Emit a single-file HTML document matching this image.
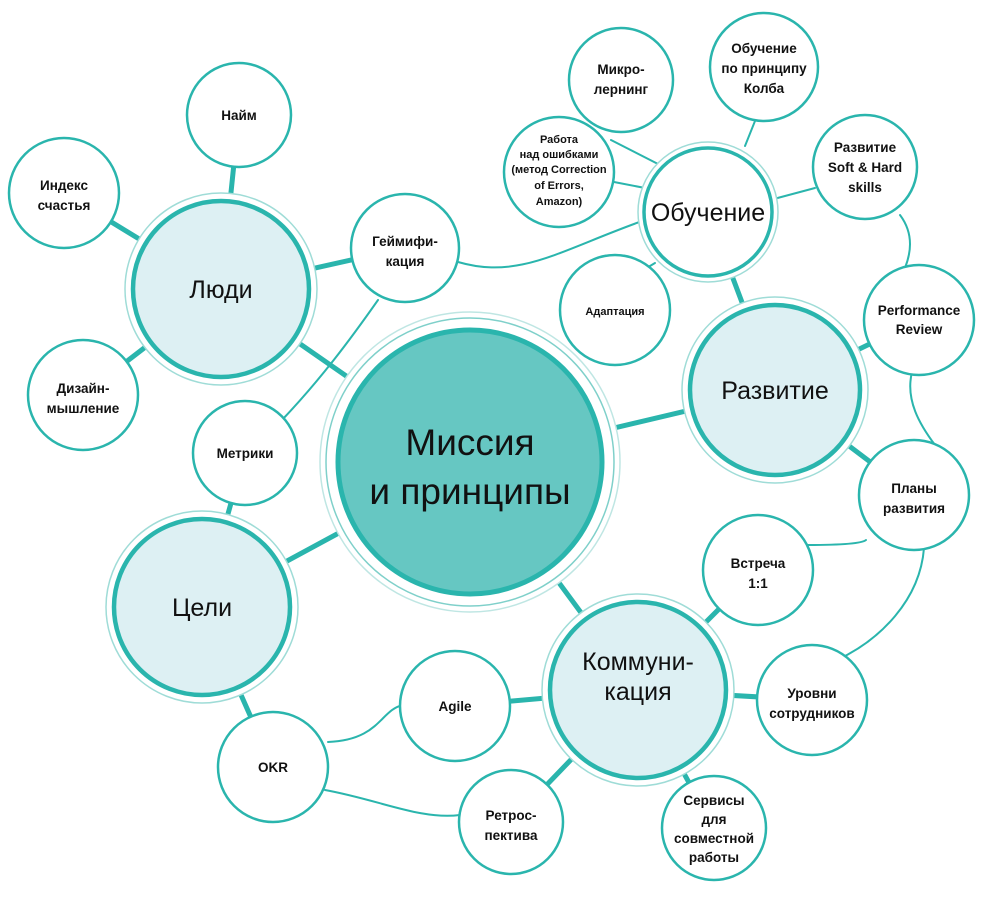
<!DOCTYPE html>
<html><head><meta charset="utf-8"><style>
html,body{margin:0;padding:0;background:#fff;}
svg{display:block;}
text{font-family:"Liberation Sans",sans-serif;fill:#111;text-anchor:middle;}
</style></head><body>
<svg width="1000" height="913" viewBox="0 0 1000 913">
<g stroke="#2ab5ad" fill="none" stroke-linecap="round">
<g stroke-width="2">
<path d="M458 262 C520 280 560 250 645 220"/>
<path d="M378 300 C350 340 320 380 282 420"/>
<path d="M900 215 C915 235 910 255 905 268"/>
<path d="M912 372 C905 400 920 425 935 445"/>
<path d="M866 540 C860 545 820 545 808 545"/>
<path d="M924 548 C920 600 880 640 837 660"/>
<path d="M328 742 C380 740 380 710 403 705"/>
<path d="M325 790 C380 800 420 820 460 815"/>
<path d="M611 140 L660 165"/>
<path d="M745 146 L755 121"/>
<path d="M614 182 L645 188"/>
<path d="M770 200 L815 188"/>
<path d="M655 263 L640 272"/>
</g>
<g stroke-width="5">
<line x1="470" y1="462" x2="221" y2="289"/>
<line x1="470" y1="462" x2="202" y2="607"/>
<line x1="470" y1="462" x2="775" y2="390"/>
<line x1="470" y1="462" x2="638" y2="690"/>
<line x1="708" y1="212" x2="775" y2="390"/>
<line x1="221" y1="289" x2="239" y2="115"/>
<line x1="221" y1="289" x2="64" y2="193"/>
<line x1="221" y1="289" x2="405" y2="248"/>
<line x1="221" y1="289" x2="83" y2="395"/>
<line x1="202" y1="607" x2="245" y2="453"/>
<line x1="202" y1="607" x2="273" y2="767"/>
<line x1="775" y1="390" x2="919" y2="320"/>
<line x1="775" y1="390" x2="914" y2="495"/>
<line x1="638" y1="690" x2="758" y2="570"/>
<line x1="638" y1="690" x2="812" y2="700"/>
<line x1="638" y1="690" x2="714" y2="828"/>
<line x1="638" y1="690" x2="511" y2="822"/>
<line x1="638" y1="690" x2="455" y2="706"/>
</g>
</g>
<circle cx="470" cy="462" r="150" fill="#fff" stroke="#bfe6e3" stroke-width="1.5"/>
<circle cx="470" cy="462" r="144" fill="#fff" stroke="#7fd0ca" stroke-width="1.5"/>
<circle cx="470" cy="462" r="132" fill="#66c7c2" stroke="#2ab5ad" stroke-width="5"/>
<text x="470" y="455" font-size="37">Миссия</text>
<text x="470" y="504" font-size="37">и принципы</text>
<g stroke="#2ab5ad">
<circle cx="221" cy="289" r="96" fill="#fff" stroke="#9fdcd7" stroke-width="1.5"/>
<circle cx="221" cy="289" r="88" fill="#ddf0f3" stroke-width="4.5"/>
<circle cx="202" cy="607" r="96" fill="#fff" stroke="#9fdcd7" stroke-width="1.5"/>
<circle cx="202" cy="607" r="88" fill="#ddf0f3" stroke-width="4.5"/>
<circle cx="775" cy="390" r="93" fill="#fff" stroke="#9fdcd7" stroke-width="1.5"/>
<circle cx="775" cy="390" r="85" fill="#ddf0f3" stroke-width="4.5"/>
<circle cx="638" cy="690" r="96" fill="#fff" stroke="#9fdcd7" stroke-width="1.5"/>
<circle cx="638" cy="690" r="88" fill="#ddf0f3" stroke-width="4.5"/>
<circle cx="708" cy="212" r="70" fill="#fff" stroke="#9fdcd7" stroke-width="1.5"/>
<circle cx="708" cy="212" r="64" fill="#fff" stroke-width="3.5"/>
</g>
<g font-size="25">
<text x="221" y="298">Люди</text>
<text x="202" y="616">Цели</text>
<text x="775" y="399">Развитие</text>
<text x="638" y="670">Коммуни-</text>
<text x="638" y="700">кация</text>
<text x="708" y="221">Обучение</text>
</g>
<g fill="#fff" stroke="#2ab5ad" stroke-width="2.5">
<circle cx="239" cy="115" r="52"/>
<circle cx="64" cy="193" r="55"/>
<circle cx="405" cy="248" r="54"/>
<circle cx="83" cy="395" r="55"/>
<circle cx="245" cy="453" r="52"/>
<circle cx="621" cy="80" r="52"/>
<circle cx="764" cy="67" r="54"/>
<circle cx="559" cy="172" r="55"/>
<circle cx="615" cy="310" r="55"/>
<circle cx="865" cy="167" r="52"/>
<circle cx="919" cy="320" r="55"/>
<circle cx="914" cy="495" r="55"/>
<circle cx="758" cy="570" r="55"/>
<circle cx="812" cy="700" r="55"/>
<circle cx="714" cy="828" r="52"/>
<circle cx="511" cy="822" r="52"/>
<circle cx="455" cy="706" r="55"/>
<circle cx="273" cy="767" r="55"/>
</g>
<g font-size="13.5" font-weight="bold">
<text x="239" y="120">Найм</text>
<text x="64" y="190">Индекс</text><text x="64" y="210">счастья</text>
<text x="405" y="246">Геймифи-</text><text x="405" y="266">кация</text>
<text x="83" y="393">Дизайн-</text><text x="83" y="413">мышление</text>
<text x="245" y="458">Метрики</text>
<text x="621" y="74">Микро-</text><text x="621" y="94">лернинг</text>
<text x="764" y="53">Обучение</text><text x="764" y="73">по принципу</text><text x="764" y="93">Колба</text>
<g font-size="11"><text x="559" y="143">Работа</text><text x="559" y="158">над ошибками</text><text x="559" y="173">(метод Correction</text><text x="559" y="189">of Errors,</text><text x="559" y="205">Amazon)</text>
<text x="615" y="315">Адаптация</text></g>
<text x="865" y="152">Развитие</text><text x="865" y="172">Soft &amp; Hard</text><text x="865" y="192">skills</text>
<text x="919" y="315">Performance</text><text x="919" y="334">Review</text>
<text x="914" y="493">Планы</text><text x="914" y="513">развития</text>
<text x="758" y="568">Встреча</text><text x="758" y="588">1:1</text>
<text x="812" y="698">Уровни</text><text x="812" y="718">сотрудников</text>
<text x="714" y="805">Сервисы</text><text x="714" y="824">для</text><text x="714" y="843">совместной</text><text x="714" y="862">работы</text>
<text x="511" y="820">Ретрос-</text><text x="511" y="840">пектива</text>
<text x="455" y="711">Agile</text>
<text x="273" y="772">OKR</text>
</g>
</svg>
</body></html>
